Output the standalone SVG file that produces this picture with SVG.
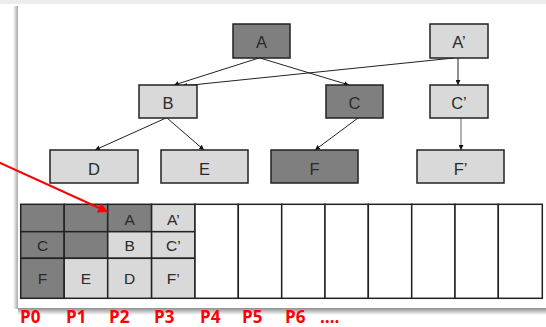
<svg xmlns="http://www.w3.org/2000/svg" width="546" height="327" viewBox="0 0 546 327">
  <defs>
    <style>
      .dark { fill: #7f7f7f; stroke: #222; stroke-width: 1.5; }
      .light { fill: #d9d9d9; stroke: #222; stroke-width: 1.5; }
      .empty { fill: #ffffff; stroke: #222; stroke-width: 1.5; }
      .lbl { font-family: "Liberation Sans", Arial, sans-serif; font-size: 16.5px; fill: #2a2a2a; text-anchor: middle; }
      .cell { font-family: "Liberation Sans", Arial, sans-serif; font-size: 15.5px; fill: #2a2a2a; text-anchor: middle; }
      .edge { stroke: #222; stroke-width: 1; fill: none; marker-end: url(#tip); }
      .pl { font-family: "Open Sans", "Liberation Sans", sans-serif; font-size: 17px; font-weight: bold; fill: #ff0000; }
    </style>
    <marker id="tip" viewBox="0 0 10 10" refX="10" refY="5" markerWidth="5" markerHeight="5" orient="auto" markerUnits="userSpaceOnUse">
      <path d="M0,0 L10,5 L0,10 z" fill="#111"/>
    </marker>
    <marker id="redtip" viewBox="0 0 10 10" refX="10" refY="5" markerWidth="13" markerHeight="10" orient="auto" markerUnits="userSpaceOnUse">
      <path d="M0,0 L10,5 L0,10 z" fill="#ff0000"/>
    </marker>
    <linearGradient id="shadeB" x1="0" y1="0" x2="0" y2="1">
      <stop offset="0" stop-color="#8c8c8c"/>
      <stop offset="1" stop-color="#ffffff"/>
    </linearGradient>
    <linearGradient id="shadeL" x1="1" y1="0" x2="0" y2="0">
      <stop offset="0" stop-color="#a8a8a8"/>
      <stop offset="1" stop-color="#ffffff"/>
    </linearGradient>
  </defs>

  <!-- page background and slide panel -->
  <rect x="0" y="0" width="546" height="327" fill="#ffffff"/>
  <rect x="0" y="0" width="546" height="4" fill="#ececec"/>
  <rect x="13" y="6" width="5" height="303" fill="url(#shadeL)"/>
  <rect x="18" y="308" width="528" height="7" fill="url(#shadeB)"/>
  <rect x="18" y="4" width="528" height="304" fill="#ffffff"/>

  <!-- connectors -->
  <g id="connectors">
    <line class="edge" x1="259" y1="58" x2="174" y2="85"/>
    <line class="edge" x1="260" y1="58" x2="349" y2="85"/>
    <line class="edge" x1="454" y1="58" x2="182" y2="86"/>
    <line class="edge" x1="458" y1="58" x2="458" y2="85"/>
    <line class="edge" x1="166" y1="118" x2="95" y2="150"/>
    <line class="edge" x1="167" y1="118" x2="204" y2="150"/>
    <line class="edge" x1="358" y1="118" x2="315" y2="150"/>
    <line class="edge" x1="461" y1="118" x2="461" y2="150" style="stroke:#666"/>
  </g>

  <!-- tree nodes -->
  <g id="node-A"><rect class="dark" x="233" y="24" width="57" height="34"/><text class="lbl" x="261.5" y="48">A</text></g>
  <g id="node-A2"><rect class="light" x="430" y="24" width="58" height="34"/><text class="lbl" x="459" y="48">A’</text></g>
  <g id="node-B"><rect class="light" x="139" y="85" width="58" height="33"/><text class="lbl" x="168" y="108.5">B</text></g>
  <g id="node-C"><rect class="dark" x="326" y="85" width="57" height="33"/><text class="lbl" x="354.5" y="108.5">C</text></g>
  <g id="node-C2"><rect class="light" x="430" y="85" width="58" height="33"/><text class="lbl" x="459" y="108.5">C’</text></g>
  <g id="node-D"><rect class="light" x="50" y="150" width="88" height="33"/><text class="lbl" x="94" y="174.5">D</text></g>
  <g id="node-E"><rect class="light" x="161" y="150" width="87" height="33"/><text class="lbl" x="204.5" y="174.5">E</text></g>
  <g id="node-F"><rect class="dark" x="271" y="150" width="87" height="33"/><text class="lbl" x="314.5" y="174.5">F</text></g>
  <g id="node-F2"><rect class="light" x="417" y="150" width="87" height="33"/><text class="lbl" x="460.5" y="174.5">F’</text></g>

  <!-- processor memory grid -->
  <g id="grid">
    <rect class="dark" x="20.7" y="204.3" width="43.5" height="27.4"/>
    <rect class="dark" x="64.2" y="204.3" width="43.5" height="27.4"/>
    <rect class="dark" x="107.7" y="204.3" width="43.9" height="27.4"/>
    <rect class="light" x="151.6" y="204.3" width="43.4" height="27.4"/>
    <rect class="dark" x="20.7" y="231.7" width="43.5" height="26.6"/>
    <rect class="dark" x="64.2" y="231.7" width="43.5" height="26.6"/>
    <rect class="light" x="107.7" y="231.7" width="43.9" height="26.6"/>
    <rect class="light" x="151.6" y="231.7" width="43.4" height="26.6"/>
    <rect class="dark" x="20.7" y="258.3" width="43.5" height="40"/>
    <rect class="light" x="64.2" y="258.3" width="43.5" height="40"/>
    <rect class="light" x="107.7" y="258.3" width="43.9" height="40"/>
    <rect class="light" x="151.6" y="258.3" width="43.4" height="40"/>
    <rect class="empty" x="195" y="204.3" width="43.3" height="94"/>
    <rect class="empty" x="238.3" y="204.3" width="43.4" height="94"/>
    <rect class="empty" x="281.7" y="204.3" width="43.3" height="94"/>
    <rect class="empty" x="325" y="204.3" width="43.3" height="94"/>
    <rect class="empty" x="368.3" y="204.3" width="43.4" height="94"/>
    <rect class="empty" x="411.7" y="204.3" width="43.3" height="94"/>
    <rect class="empty" x="455" y="204.3" width="43.3" height="94"/>
    <rect class="empty" x="498.3" y="204.3" width="44" height="94"/>
    <text class="cell" x="129.6" y="224.5">A</text>
    <text class="cell" x="173.3" y="224.5">A’</text>
    <text class="cell" x="42.5" y="251">C</text>
    <text class="cell" x="129.6" y="251">B</text>
    <text class="cell" x="173.3" y="251">C’</text>
    <text class="cell" x="42.5" y="284">F</text>
    <text class="cell" x="86" y="284">E</text>
    <text class="cell" x="129.6" y="284">D</text>
    <text class="cell" x="173.3" y="284">F’</text>
  </g>

  <!-- red pointer -->
  <line x1="-2" y1="162" x2="108" y2="212" stroke="#ff0000" stroke-width="2" marker-end="url(#redtip)"/>

  <!-- processor labels -->
  <g id="labels">
    <text class="pl" x="20" y="323">P0</text>
    <text class="pl" x="66" y="323">P1</text>
    <text class="pl" x="109" y="323">P2</text>
    <text class="pl" x="154" y="323">P3</text>
    <text class="pl" x="200" y="323">P4</text>
    <text class="pl" x="242" y="323">P5</text>
    <text class="pl" x="285" y="323">P6</text>
    <text class="pl" x="320" y="323">....</text>
  </g>
</svg>
